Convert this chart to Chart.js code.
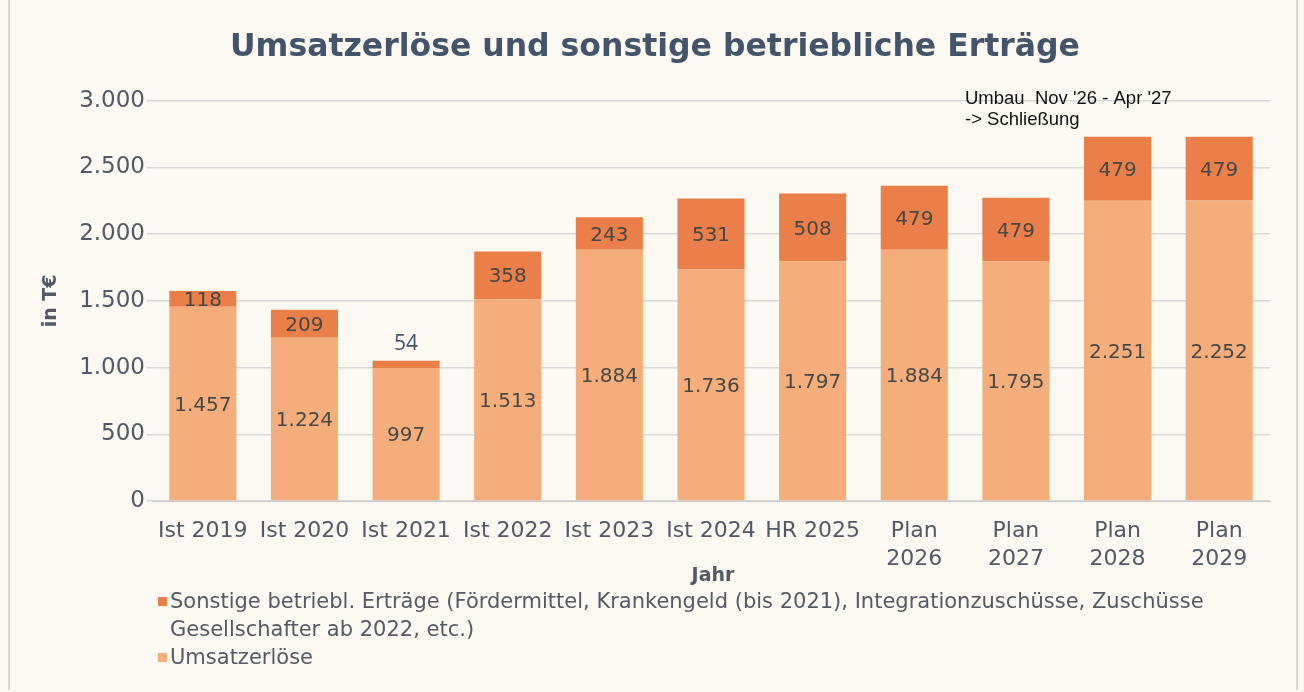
<!DOCTYPE html>
<html>
<head>
<meta charset="utf-8">
<script src="https://cdn.jsdelivr.net/npm/chart.js@4"></script>
<style>
  html, body { margin: 0; padding: 0; background: #fbf9f1; }
  #wrap { position: relative; width: 1304px; height: 692px; }
  #frame { position: absolute; left: 8px; top: 0; width: 1290px; height: 690px;
           border-left: 2px solid #d8d8d4; border-right: 2px solid #d8d8d4; box-sizing: border-box; }
  #legend { position: absolute; left: 158px; top: 587px; width: 1080px;
            font-family: "DejaVu Sans", sans-serif; font-size: 21px; color: #555b64; line-height: 28px; }
  #legend .item { position: relative; padding-left: 12px; }
  #legend .sw { position: absolute; left: 0; top: 10px; width: 9px; height: 9px; }
</style>
</head>
<body>
<div id="wrap">
  <canvas id="revenue_chart" width="1304" height="692"></canvas>
  <div id="frame"></div>
  <div id="legend"></div>
</div>
<script>
const categories = ['Ist 2019', 'Ist 2020', 'Ist 2021', 'Ist 2022', 'Ist 2023', 'Ist 2024', 'HR 2025',
    ['Plan', '2026'], ['Plan', '2027'], ['Plan', '2028'], ['Plan', '2029']];
const umsatzerloese = [1457, 1224, 997, 1513, 1884, 1736, 1797, 1884, 1795, 2251, 2252];
const sonstigeErtraege = [118, 209, 54, 358, 243, 531, 508, 479, 479, 479, 479];
const yTicks = [0, 500, 1000, 1500, 2000, 2500, 3000];

const labelSonstige = 'Sonstige betriebl. Erträge (Fördermittel, Krankengeld (bis 2021), Integrationzuschüsse, Zuschüsse Gesellschafter ab 2022, etc.)';
const labelUmsatz = 'Umsatzerlöse';

const colUmsatz = '#f5ae7b';
const colSonstige = '#ea7f49';
const textCol = '#525a66';
const font = '"DejaVu Sans", sans-serif';

function fmt(v) {
    return String(v).replace(/\B(?=(\d{3})+(?!\d))/g, '.');
}

/* =========================
   Value labels, axis title, note
========================= */
const valueLabels = {
    id: 'valueLabels',
    afterDatasetsDraw(chart) {
        const ctx = chart.ctx;
        const area = chart.chartArea;
        ctx.save();
        ctx.textAlign = 'center';
        ctx.textBaseline = 'middle';
        chart.data.datasets.forEach((ds, di) => {
            chart.getDatasetMeta(di).data.forEach((bar, i) => {
                const v = ds.data[i];
                const h = Math.abs(bar.base - bar.y);
                if (h < 10) {
                    // too thin: label sits above the bar
                    ctx.font = '21px "Open Sans", sans-serif';
                    ctx.fillStyle = '#44546a';
                    ctx.fillText(fmt(v), bar.x, bar.y - 17);
                } else {
                    ctx.font = '20px ' + font;
                    ctx.fillStyle = '#474747';
                    ctx.fillText(fmt(v), bar.x, (bar.y + bar.base) / 2 + 2);
                }
            });
        });
        // x axis title
        ctx.font = 'bold 19px ' + font;
        ctx.fillStyle = textCol;
        ctx.fillText('Jahr', (area.left + area.right) / 2 + 2, area.bottom + 75);
        // note above the last bars
        ctx.textAlign = 'left';
        ctx.font = '18.5px "Liberation Sans", Arial, sans-serif';
        ctx.fillStyle = '#111111';
        ctx.fillText("Umbau  Nov '26 - Apr '27", 965, 99);
        ctx.fillText('-> Schließung', 965, 120);
        ctx.restore();
    }
};

const ctx = document.getElementById('revenue_chart').getContext('2d');

const chart = new Chart(ctx, {
    type: 'bar',
    data: {
        labels: categories,
        datasets: [
            {
                label: labelUmsatz,
                data: umsatzerloese,
                backgroundColor: colUmsatz,
                barPercentage: 0.66,
                categoryPercentage: 1
            },
            {
                label: labelSonstige,
                data: sonstigeErtraege,
                backgroundColor: colSonstige,
                barPercentage: 0.66,
                categoryPercentage: 1
            }
        ]
    },
    options: {
        responsive: false,
        animation: false,
        layout: {
            padding: { left: 40, right: 34, top: 0, bottom: 110 }
        },
        plugins: {
            legend: { display: false },
            tooltip: { enabled: false },
            title: {
                display: true,
                text: 'Umsatzerlöse und sonstige betriebliche Erträge',
                color: '#44546a',
                font: { family: font, size: 31.5, weight: 'bold' },
                padding: { top: 29, bottom: 34 }
            }
        },
        scales: {
            x: {
                stacked: true,
                grid: { display: false },
                border: { color: '#c8c8c8' },
                ticks: {
                    color: textCol,
                    font: { family: font, size: 22, lineHeight: 1.25 },
                    maxRotation: 0,
                    autoSkip: false,
                    padding: 9
                }
            },
            y: {
                stacked: true,
                min: 0,
                max: 3000,
                afterBuildTicks(scale) {
                    scale.ticks = yTicks.map(v => ({ value: v }));
                },
                afterFit(scale) {
                    scale.width = 112;
                },
                grid: { color: '#d9d9d9', lineWidth: 1.5, drawTicks: true, tickLength: 5 },
                border: { display: false },
                ticks: {
                    color: textCol,
                    font: { family: font, size: 23 },
                    padding: 2,
                    callback: v => fmt(v)
                },
                title: {
                    display: true,
                    text: 'in T€',
                    color: textCol,
                    font: { family: font, size: 19, weight: 'bold' },
                    padding: { top: 0, bottom: 2 }
                }
            }
        }
    },
    plugins: [valueLabels]
});

/* =========================
   Legend (wrapping text)
========================= */
const legendEl = document.getElementById('legend');
[[labelSonstige, colSonstige], [labelUmsatz, colUmsatz]].forEach(([text, color]) => {
    const item = document.createElement('div');
    item.className = 'item';
    const sw = document.createElement('span');
    sw.className = 'sw';
    sw.style.background = color;
    item.appendChild(sw);
    item.appendChild(document.createTextNode(text));
    legendEl.appendChild(item);
});
</script>
</body>
</html>
